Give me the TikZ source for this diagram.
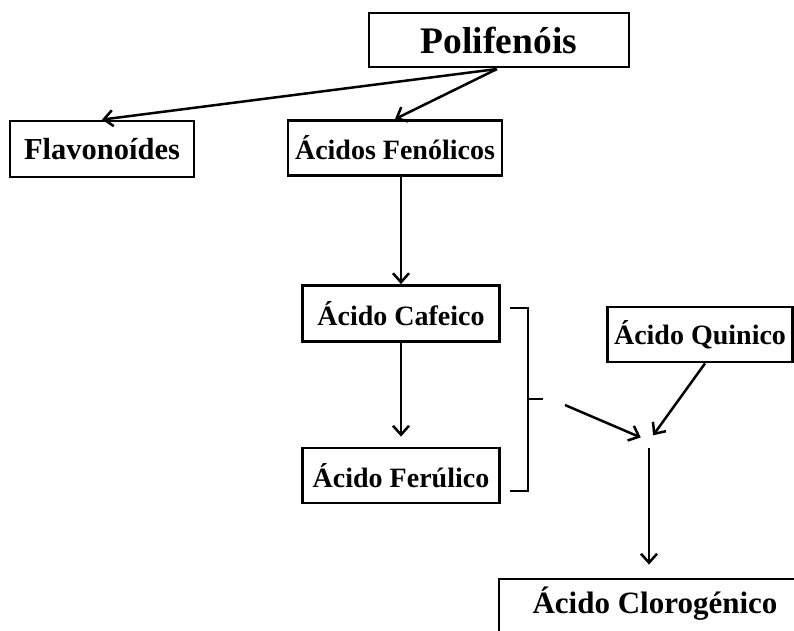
\documentclass[tikz,border=0pt]{standalone}
\usepackage{fontspec}
\setmainfont{Liberation Serif}
\usetikzlibrary{arrows.meta}
\begin{document}
\begin{tikzpicture}[x=1pt,y=-1pt,
  box/.style={draw, line width=2.8pt, inner sep=0pt, font=\bfseries\fontsize{28}{30}\selectfont},
  conn/.style={line width=2.5pt, -{Straight Barb[length=9pt,width=16pt,line width=2.5pt]}},
  plain/.style={line width=2.6pt}]
\useasboundingbox (0,0) rectangle (794,630);
\clip (0,0) rectangle (794,630);

% boxes
\node[box, minimum width=260, minimum height=54, font=\bfseries\fontsize{37.5}{39}\selectfont] (pol) at (499,40) {Polifenóis};
\node[box, minimum width=184, minimum height=56, font=\bfseries\fontsize{30.5}{32}\selectfont] (flav) at (102,149) {Flavonoídes};
\node[box, minimum width=214, minimum height=55] (fen) at (395,148) {Ácidos Fenólicos};
\node[box, minimum width=197, minimum height=56] (caf) at (401,313.5) {Ácido Cafeico};
\node[box, minimum width=197, minimum height=55] (fer) at (401,475.5) {Ácido Ferúlico};
\node[box, minimum width=185, minimum height=55] (qui) at (700,334.5) {Ácido Quinico};
\node[box, minimum width=312, minimum height=62] (clo) at (655,610) {};
\node[font=\bfseries\fontsize{31}{33}\selectfont, inner sep=0pt] (clotext) at (655,604) {Ácido Clorogénico};

% connectors
\coordinate (split) at (497,69);
\draw[conn] (split) -- (flav.north);
\draw[conn] (split) -- (fen.north);
\draw[conn] (fen.south -| caf.north) -- (caf.north);
\draw[conn, shorten >=10pt] (caf.south) -- (fer.north);

% bracket grouping the two acids
\coordinate (bt) at (510,308);
\coordinate (bb) at (510,491);
\coordinate (bm) at (543,399);
\draw[plain] (bt) -- (528,308) -- (528,491) -- (bb);
\draw[plain] (528,399) -- (bm);

% merge point
\coordinate (hub) at (649,441);
\draw[conn, shorten >=9pt] (565,405) -- (hub);
\draw[conn, shorten >=7pt] (qui.south -| 705,0) -- (hub);
\draw[conn, shorten <=7pt, shorten >=13pt] (hub) -- (hub |- clo.north);
\end{tikzpicture}
\end{document}
